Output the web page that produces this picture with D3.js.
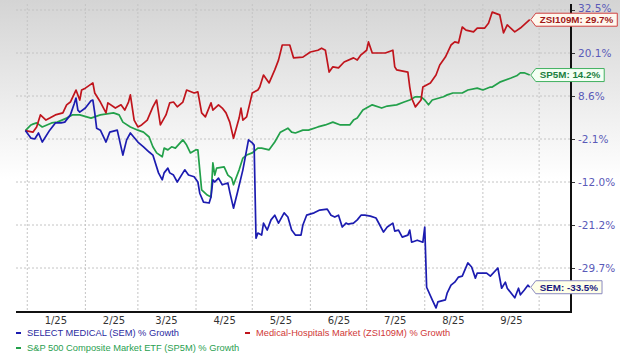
<!DOCTYPE html>
<html><head><meta charset="utf-8">
<script src="https://cdn.jsdelivr.net/npm/d3@7/dist/d3.min.js"></script>
<style>html,body{margin:0;padding:0;background:#fff;}svg{display:block;}</style>
</head><body>
<svg id="chart" width="620" height="358"></svg>
<script>
// ---- data (days counted from 2025-01-01, values in % growth) ----
const yTickValues = [-29.7, -21.2, -12.0, -2.1, 8.6, 20.1, 32.5];
const monthLabels = ["1/25","2/25","3/25","4/25","5/25","6/25","7/25","8/25","9/25"];

const semDays = [-1,2,4,6,8,12,15,18,20,23,25,26,27,28,31,34,35,36,37,39,42,44,48,51,53,55,59,62,65,67,70,72,73,75,76,78,80,83,84,86,89,91,92,94,97,98,99,100,102,104,107,108,110,112,115,117,118,120,121,122,123,125,126,128,130,132,134,137,139,141,143,146,147,149,153,156,160,162,164,166,168,170,171,174,176,178,180,183,186,188,190,192,195,196,198,200,203,204,205,208,211,212,213,216,218,219,223,224,226,228,230,232,235,237,239,240,245,247,251,253,255,256,260,262,263,265,267,268];
const semValues = [0,-1.9,-2.1,-0.6,-2.8,0.1,1.9,1.9,2.1,3.9,6.6,8.1,5.1,4.6,5.6,7.4,7.6,4.4,0.6,0.1,-2.8,-0.4,0.1,-5.8,-2.3,-0.6,-2.8,-3.9,-5.1,-5.8,-9.9,-11.5,-9.9,-8.8,-9.9,-10.4,-12.0,-9.9,-9.2,-10.4,-10.8,-12.0,-14.4,-16.3,-16.5,-15.2,-11.5,-12.0,-11.1,-12.6,-12.2,-14.1,-17.6,-14.4,-9.2,-4.6,-2.3,-3.0,-3.5,-23.8,-22.8,-23.2,-20.8,-22.2,-20.1,-19.1,-20.8,-18.6,-19.5,-22.2,-23.2,-23.2,-21.2,-19.1,-18.6,-18.0,-17.8,-19.1,-19.5,-19.1,-21.6,-20.8,-21.0,-20.8,-20.1,-19.1,-19.1,-19.3,-19.7,-21.2,-22.6,-21.6,-20.8,-22.4,-22.2,-23.6,-23.2,-22.2,-24.6,-24.2,-24.6,-21.6,-33.5,-36.0,-37.6,-36.4,-36.0,-34.6,-33.1,-32.5,-31.5,-31.3,-28.7,-29.5,-31.7,-30.7,-30.7,-31.3,-29.7,-33.7,-32.5,-33.7,-35.6,-33.7,-35.0,-34.1,-33.1,-33.5];

const zsiDays = [-1,3,5,7,10,12,15,19,21,23,26,28,29,31,35,36,39,42,43,47,50,52,54,55,57,59,61,64,67,69,71,74,76,78,80,83,85,89,91,93,95,98,99,102,104,106,108,110,113,114,115,117,120,123,124,126,129,132,134,136,140,142,147,151,155,157,159,161,163,166,169,174,176,178,181,182,184,187,191,195,196,197,203,204,205,207,210,211,215,218,220,223,226,228,230,232,234,238,240,244,246,248,252,254,256,260,263,268];
const zsiValues = [0,-0.4,0.9,3.9,2.6,3.1,3.9,4.4,6.4,7.1,10.2,7.6,10.2,10.7,12.1,9.4,7.1,4.4,6.9,5.6,6.4,5.1,7.1,8.9,2.6,0.9,1.4,2.6,5.9,7.6,1.4,3.9,6.9,7.1,5.9,7.1,10.2,9.4,9.7,4.4,3.4,6.9,5.1,6.4,5.6,4.4,2.1,-1.9,3.1,5.6,2.6,3.4,9.4,10.2,11.0,14.2,12.1,15.6,18.2,22.4,22.4,18.8,19.0,20.4,20.9,21.5,20.9,15.0,16.4,16.1,17.7,18.8,18.2,19.6,20.9,23.3,20.1,20.1,20.1,20.9,16.4,15.6,15.0,11.0,8.1,5.9,7.6,11.0,12.1,14.2,16.9,19.0,22.4,23.3,23.0,27.6,26.7,26.2,27.3,27.3,28.7,31.9,31.1,25.9,28.2,26.2,27.3,29.7];

const spDays = [-1,2,3,5,8,13,16,21,24,28,34,39,46,49,51,55,59,62,65,67,69,72,73,75,77,79,83,85,87,90,91,93,96,98,99,100,101,105,107,109,110,113,115,117,120,123,125,129,132,135,139,141,143,147,150,155,159,163,167,172,174,176,179,184,189,192,197,201,204,207,210,212,214,216,222,224,227,232,235,240,243,247,248,252,258,261,263,265,268];
const spValues = [0,1.4,1.6,1.9,0.9,1.9,2.1,3.1,3.9,3.9,3.1,3.9,4.4,3.9,2.1,0.9,0.1,-0.4,-1.6,-3.9,-5.3,-6.2,-4.2,-4.6,-3.9,-4.2,-2.3,-3.5,-5.3,-4.6,-4.6,-13.7,-14.8,-15.2,-7.6,-10.4,-8.8,-8.5,-10.4,-11.1,-12.6,-9.2,-6.5,-5.8,-5.3,-4.2,-4.2,-4.6,-2.8,-0.4,0.6,-0.4,-0.6,0.1,0.1,0.9,1.4,2.1,1.4,1.4,2.6,3.1,5.1,6.4,5.6,6.1,6.4,7.1,7.6,8.4,8.4,7.6,6.4,7.6,8.4,8.9,9.4,9.4,10.2,10.7,10.2,11.0,11.0,12.3,13.4,14.0,14.8,14.8,14.2];

const seriesNames = ["SELECT MEDICAL (SEM) % Growth", "Medical-Hospitals Market (ZSI109M) % Growth", "S&P 500 Composite Market ETF (SP5M) % Growth"];
const calloutLabels = ["SEM: -33.5%", "ZSI109M: 29.7%", "SP5M: 14.2%"];

// ---- build ----
const base = new Date(2025, 0, 1);
const toDate = d => d3.timeDay.offset(base, d);
const zip = (ds, vs) => ds.map((d, i) => ({date: toDate(d), v: vs[i]}));

const series = [
  {name: seriesNames[0], label: calloutLabels[0], data: zip(semDays, semValues), color: "#1c1cb0", text: "#2a2aa0", box: "#ffffe8", boxStroke: "#8a8ac0", labelColor: "#1a1a80"},
  {name: seriesNames[1], label: calloutLabels[1], data: zip(zsiDays, zsiValues), color: "#c0141c", text: "#d03838", box: "#fff8ee", boxStroke: "#d04040", labelColor: "#a01818"},
  {name: seriesNames[2], label: calloutLabels[2], data: zip(spDays, spValues), color: "#22a04a", text: "#2aa050", box: "#f4fff4", boxStroke: "#40b060", labelColor: "#1a8040"}
];

const svg = d3.select("#chart");
const W = 620, H = 358;
const pL = 16, pR = 571, pT = 4, pB = 312;

const defs = svg.append("defs");
const grad = defs.append("linearGradient").attr("id", "bg").attr("x1", 0).attr("y1", 0).attr("x2", 0).attr("y2", 1);
grad.append("stop").attr("offset", "0%").attr("stop-color", "#d4d4d4");
grad.append("stop").attr("offset", "50%").attr("stop-color", "#ffffff");
grad.append("stop").attr("offset", "100%").attr("stop-color", "#ffffff");
svg.append("rect").attr("width", W).attr("height", H).attr("fill", "url(#bg)");

const x = d3.scaleTime().domain([new Date(2024, 11, 26), new Date(2025, 9, 18)]).range([pL, pR]);
const yRange = yTickValues.map((v, i) => 268 - i * 43);
const y = d3.scaleLinear().domain(yTickValues).range(yRange);

// grid
const monthStarts = d3.timeMonth.range(new Date(2025, 0, 1), new Date(2025, 9, 2));
svg.append("g").selectAll("line").data(monthStarts).join("line")
  .attr("x1", d => x(d)).attr("x2", d => x(d)).attr("y1", pT).attr("y2", pB)
  .attr("stroke", "#c4c4c4").attr("stroke-dasharray", "2,2").attr("stroke-width", 1);
svg.append("g").selectAll("line").data(yTickValues).join("line")
  .attr("x1", pL).attr("x2", pR).attr("y1", d => y(d)).attr("y2", d => y(d))
  .attr("stroke", "#c4c4c4").attr("stroke-dasharray", "2,2").attr("stroke-width", 1);

// lines
const line = d3.line().x(d => x(d.date)).y(d => y(d.v));
svg.append("g").selectAll("path").data([series[2], series[1], series[0]]).join("path")
  .attr("d", s => line(s.data)).attr("fill", "none").attr("stroke", s => s.color)
  .attr("stroke-width", 1.7).attr("stroke-linejoin", "round");

// axes
const yAxis = d3.axisRight(y).tickValues(yTickValues).tickSize(4).tickPadding(3)
  .tickFormat(d => d.toFixed(1) + "%");
const gy = svg.append("g").attr("transform", `translate(${pR},0)`).call(yAxis);
gy.select(".domain").remove();
gy.selectAll(".tick line").attr("stroke", "#333");
gy.selectAll("text").attr("fill", "#5a5ab8").attr("font-family", "DejaVu Sans, Verdana, sans-serif").attr("font-size", 10.5)
  .attr("dy", d => d === yTickValues[yTickValues.length - 1] ? "0.1em" : "0.32em");

const midMonths = monthLabels.map((m, i) => new Date(2025, i, 16));
const xAxis = d3.axisBottom(x).tickValues(midMonths).tickSize(0).tickPadding(5)
  .tickFormat((d, i) => monthLabels[i]);
const gx = svg.append("g").attr("transform", `translate(0,${pB})`).call(xAxis);
gx.select(".domain").remove();
gx.selectAll("text").attr("fill", "#333").attr("font-family", "DejaVu Sans, Verdana, sans-serif").attr("font-size", 10);

svg.append("line").attr("x1", pR).attr("x2", pR).attr("y1", pT).attr("y2", pB + 1)
  .attr("stroke", "#111").attr("stroke-width", 2);
svg.append("line").attr("x1", pL).attr("x2", pR + 1).attr("y1", pB).attr("y2", pB)
  .attr("stroke", "#111").attr("stroke-width", 2);

// callouts
series.forEach(s => {
  const last = s.data[s.data.length - 1];
  const px = x(last.date) + 1, py = y(last.v);
  const g = svg.append("g");
  const t = g.append("text").attr("x", px + 9).attr("y", py).attr("dy", "0.35em")
    .attr("font-family", "Liberation Sans, Arial, sans-serif").attr("font-size", 9.8).attr("font-weight", "bold")
    .attr("fill", s.labelColor).text(s.label);
  const w = t.node().getComputedTextLength() + 8;
  g.insert("path", "text").attr("d", `M${px},${py} L${px + 5},${py - 6.5} L${px + 5 + w},${py - 6.5} L${px + 5 + w},${py + 6.5} L${px + 5},${py + 6.5} Z`)
    .attr("fill", s.box).attr("stroke", s.boxStroke).attr("stroke-width", 1);
});

// legend
const legendPos = [[16, 333], [245, 333], [16, 348]];
series.forEach((s, i) => {
  const [lx, ly] = legendPos[i];
  svg.append("line").attr("x1", lx).attr("x2", lx + 5).attr("y1", ly).attr("y2", ly)
    .attr("stroke", s.color).attr("stroke-width", 2);
  svg.append("text").attr("x", lx + 11).attr("y", ly).attr("dy", "0.35em")
    .attr("font-family", "Liberation Sans, Arial, sans-serif").attr("font-size", 9.3)
    .attr("fill", s.text).text(s.name);
});
</script>
</body></html>
